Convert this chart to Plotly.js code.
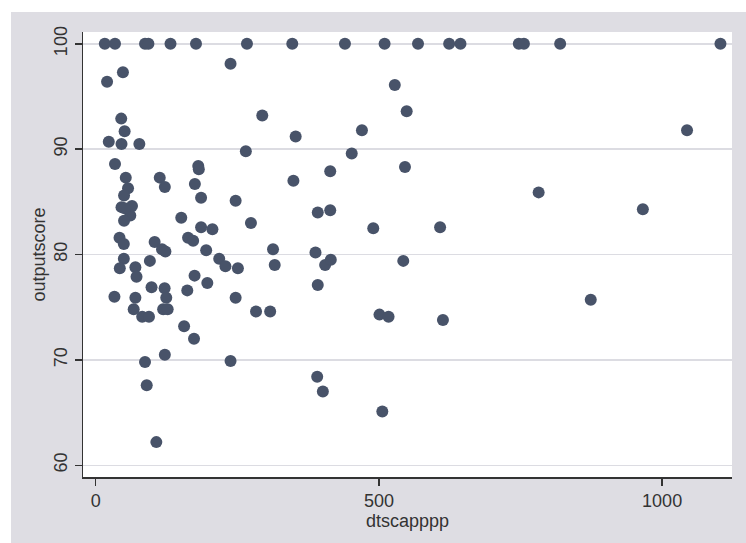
<!DOCTYPE html>
<html>
<head>
<meta charset="utf-8">
<script src="https://cdn.plot.ly/plotly-3.0.1.min.js"></script>
<style>
  html, body { margin: 0; padding: 0; background: #ffffff; }
  #chart { position: absolute; left: 11px; top: 12px; width: 735px; height: 531px; }
</style>
</head>
<body>
<div id="chart"></div>
<script>
// dtscapppp values (x) and outputscore values (y)
const topRowX = [16, 34, 87, 93, 132, 177, 267, 347, 440, 510, 569, 624, 644, 747, 756, 820, 1103];
const topRowY = [100, 100, 100, 100, 100, 100, 100, 100, 100, 100, 100, 100, 100, 100, 100, 100, 100];

const restX = [238, 48, 20, 528, 45, 294, 549, 51, 470, 1044, 353, 23, 45.5, 77, 265, 452,
  34, 181, 182, 414, 546, 53, 113, 57, 122, 175, 349, 50, 186, 247, 782,
  45.5, 64, 61, 50, 51, 392, 414, 966, 151, 274, 186, 206, 490, 608,
  42, 49.6, 104, 163, 172, 117, 123, 195, 313, 388,
  49.6, 95.6, 218, 229, 251, 316, 405, 415, 543,
  42.5, 70, 72, 174.5, 197, 392, 98.5, 121.6, 161.6,
  33, 70, 124.5, 247, 874, 67, 82, 94, 119, 127, 283, 308, 501, 517, 613,
  156, 173.5, 122, 87, 238, 90, 391, 401, 506, 107];
const restY = [98.1, 97.3, 96.4, 96.1, 92.9, 93.2, 93.6, 91.7, 91.8, 91.8, 91.2, 90.7, 90.5, 90.5, 89.8, 89.6,
  88.6, 88.4, 88.1, 87.9, 88.3, 87.3, 87.3, 86.3, 86.4, 86.7, 87.0, 85.6, 85.4, 85.1, 85.9,
  84.5, 84.6, 83.7, 83.2, 84.4, 84.0, 84.2, 84.3, 83.5, 83.0, 82.6, 82.4, 82.5, 82.6,
  81.6, 81.0, 81.2, 81.6, 81.3, 80.5, 80.3, 80.4, 80.5, 80.2,
  79.6, 79.4, 79.6, 78.9, 78.7, 79.0, 79.0, 79.5, 79.4,
  78.7, 78.8, 77.9, 78.0, 77.3, 77.1, 76.9, 76.8, 76.6,
  76.0, 75.9, 75.9, 75.9, 75.7, 74.8, 74.1, 74.1, 74.8, 74.8, 74.6, 74.6, 74.3, 74.1, 73.8,
  73.2, 72.0, 70.5, 69.8, 69.9, 67.6, 68.4, 67.0, 65.1, 62.2];

const xVals = topRowX.concat(restX);
const yVals = topRowY.concat(restY);

const xTicks = [0, 500, 1000];
const yTicks = [60, 70, 80, 90, 100];

const font = "Liberation Sans, Arial, sans-serif";

const trace = {
  type: 'scatter',
  mode: 'markers',
  x: xVals,
  y: yVals,
  marker: { color: '#485369', size: 12, line: { width: 0 } },
  hoverinfo: 'x+y'
};

const layout = {
  width: 735,
  height: 531,
  margin: { l: 72, r: 14, t: 20, b: 66 },
  paper_bgcolor: '#dedde3',
  plot_bgcolor: '#ffffff',
  showlegend: false,
  font: { family: font, color: '#333333', size: 18 },
  xaxis: {
    range: [-22.5, 1123.4],
    tickvals: xTicks,
    ticktext: xTicks.map(String),
    ticks: 'outside',
    ticklen: 7,
    tickwidth: 1.5,
    tickcolor: '#333333',
    showline: true,
    linecolor: '#333333',
    linewidth: 1.5,
    showgrid: false,
    zeroline: false,
    tickfont: { family: font, size: 18, color: '#333333' },
    title: { text: 'dtscapppp', font: { family: font, size: 18, color: '#333333' }, standoff: 0 }
  },
  yaxis: {
    range: [58.89, 101.12],
    tickvals: yTicks,
    ticktext: yTicks.map(String),
    tickangle: -90,
    ticks: 'outside',
    ticklen: 7,
    tickwidth: 1.5,
    tickcolor: '#333333',
    showline: true,
    linecolor: '#333333',
    linewidth: 1.5,
    showgrid: true,
    gridcolor: '#dcdce2',
    gridwidth: 1.5,
    zeroline: false,
    tickfont: { family: font, size: 18, color: '#333333' },
    title: { text: 'outputscore', font: { family: font, size: 18, color: '#333333' }, standoff: 1 }
  }
};

Plotly.newPlot('chart', [trace], layout, { displayModeBar: false, staticPlot: true });
</script>
</body>
</html>
